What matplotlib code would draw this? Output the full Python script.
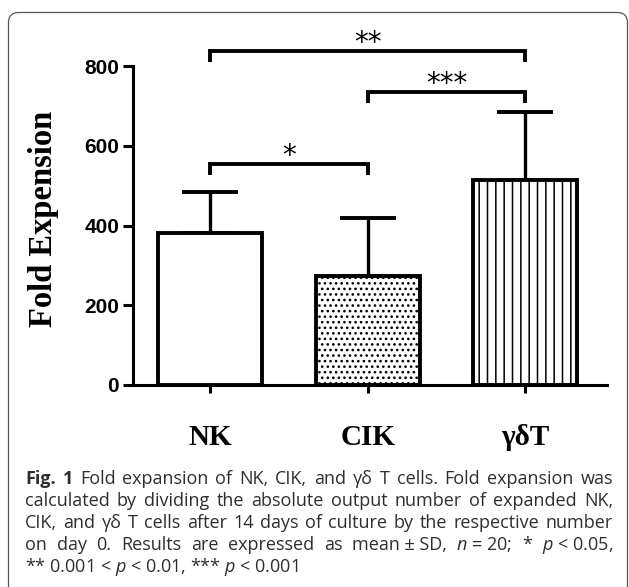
import numpy as np
import matplotlib
matplotlib.use("Agg")
import matplotlib.pyplot as plt
from matplotlib.patches import FancyBboxPatch
from matplotlib.transforms import IdentityTransform, offset_copy

# data
groups = ["NK", "CIK", "γδT"]
means = [382, 274, 514]
sds = [103, 144, 171]
hatches = [None, "...", "||"]

# significance brackets: (left group, right group, top, drop, label)
brackets = [
    (0, 1, 554, 527, "*"),
    (1, 2, 735, 707, "***"),
    (0, 2, 838, 810, "**"),
]

yticks = [0, 200, 400, 600, 800]

caption_lines = [
    [("Fig.", "bold"), ("1", "bold"), "Fold", "expansion", "of", "NK,", "CIK,", "and",
     "γδ", "T", "cells.", "Fold", "expansion", "was"],
    "calculated by dividing the absolute output number of expanded NK,".split(),
    "CIK, and γδ T cells after 14 days of culture by the respective number".split(),
    ["on", "day", "0.", "Results", "are", "expressed", "as", "mean ± SD,",
     "$n$ = 20;", "*", "$p$ < 0.05,"],
]
caption_last = "** 0.001 < $p$ < 0.01, *** $p$ < 0.001"

plt.rcParams["mathtext.fontset"] = "custom"
plt.rcParams["mathtext.it"] = "Open Sans:italic"
plt.rcParams["mathtext.rm"] = "Open Sans"
plt.rcParams["hatch.linewidth"] = 1.1

W, H = 629, 587
fig = plt.figure(figsize=(W / 100, H / 100), dpi=100)
ax = fig.add_axes([133 / W, 1 - 385 / H, (607 - 133) / W, (385 - 66) / H])

x = np.arange(len(groups))
bars = ax.bar(x, means, width=0.66, color="white", edgecolor="black",
              linewidth=2.8, zorder=2)
for b, h in zip(bars, hatches):
    if h:
        b.set_hatch(h)

ax.errorbar(x, means, yerr=[np.zeros(len(sds)), sds], fmt="none", ecolor="black",
            elinewidth=2.4, capsize=20, capthick=2.8, zorder=1, clip_on=False)

for i0, i1, top, drop, lab in brackets:
    ax.plot([i0, i0, i1, i1], [drop, top, top, drop], color="black", lw=2.8,
            clip_on=False, solid_joinstyle="miter", solid_capstyle="butt")
    ax.text((i0 + i1) / 2, top, lab, ha="center", va="baseline", fontsize=20,
            family="DejaVu Sans",
            transform=offset_copy(ax.transData, fig=fig, y=0, units="points"))

ax.set_xlim(-0.49, 2.52)
ax.set_ylim(0, 800)
ax.set_yticks(yticks)
ax.set_xticks(x)
ax.set_xticklabels(groups)
for s in ["top", "right"]:
    ax.spines[s].set_visible(False)
for s in ["left", "bottom"]:
    ax.spines[s].set_linewidth(2.2)
ax.tick_params(axis="y", length=7, width=2.2, pad=3)
ax.tick_params(axis="x", length=6, width=2.2, pad=22)
for lab in ax.get_yticklabels():
    lab.set_fontfamily("Liberation Sans")
    lab.set_fontweight("bold")
    lab.set_fontsize(15)
for lab in ax.get_xticklabels():
    lab.set_fontfamily("Liberation Serif")
    lab.set_fontweight("bold")
    lab.set_fontsize(21)

fig.text(44 / W, 1 - 219 / H, "Fold Expension", rotation=90, ha="center",
         va="center", family="Liberation Serif", weight="bold", fontsize=23.5)

# rounded frame around figure + caption
frame = FancyBboxPatch((8.5, -20), 619, H - 12.5 + 20,
                       boxstyle="round,pad=0,rounding_size=10",
                       transform=IdentityTransform(), facecolor="none",
                       edgecolor="#555555", lw=0.9)
fig.patches.append(frame)

# justified caption
cap_color = "#2e2e2e"
cap_size = 13
x_left, x_right = 25, 613
baselines = [484, 506, 528, 550, 572]
renderer = fig.canvas.get_renderer()
for line, yb in zip(caption_lines, baselines):
    items = []
    for w in line:
        if isinstance(w, tuple):
            t = fig.text(0, 1 - yb / H, w[0], fontsize=cap_size, family="Open Sans",
                         weight=w[1], color=cap_color, va="baseline")
        else:
            t = fig.text(0, 1 - yb / H, w, fontsize=cap_size, family="Open Sans",
                         color=cap_color, va="baseline")
        items.append(t)
    widths = [t.get_window_extent(renderer).width for t in items]
    gap = (x_right - x_left - sum(widths)) / (len(items) - 1)
    pos = x_left
    for t, wd in zip(items, widths):
        t.set_x(pos / W)
        pos += wd + gap
fig.text(x_left / W, 1 - baselines[-1] / H, caption_last, fontsize=cap_size,
         family="Open Sans", color=cap_color, va="baseline")

fig.savefig("out.png", dpi=100)
